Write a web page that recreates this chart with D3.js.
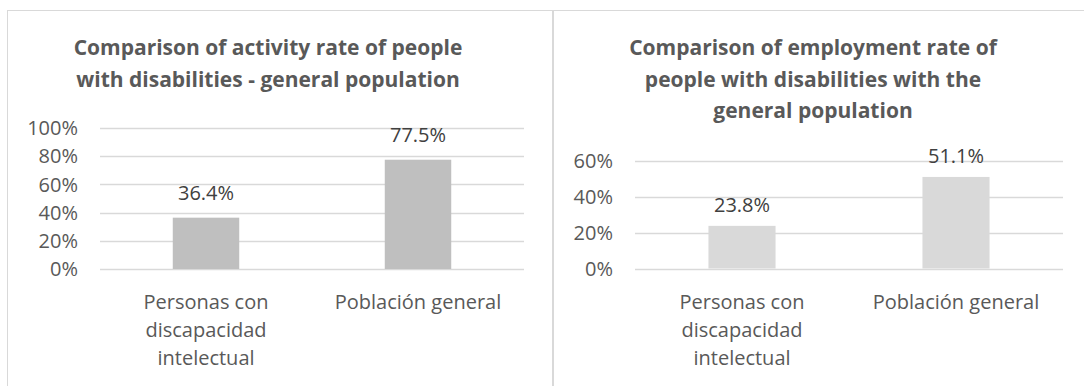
<!DOCTYPE html>
<html>
<head>
<meta charset="utf-8">
<script src="https://cdn.jsdelivr.net/npm/d3@7"></script>
<style>
    body { margin: 0; background: #ffffff; }
    svg { display: block; }
    text { font-family: "Open Sans", sans-serif; }
</style>
</head>
<body>
<div class="visual"></div>
<script>
const categories = ["Personas con discapacidad intelectual", "Población general"];
const categoryLines = [["Personas con", "discapacidad", "intelectual"], ["Población general"]];

const activityRate = [36.4, 77.5];
const employmentRate = [23.8, 51.1];

const activityTicks = [0, 20, 40, 60, 80, 100];
const employmentTicks = [0, 20, 40, 60];

const activityTitle = ["Comparison of activity rate of people", "with disabilities - general population"];
const employmentTitle = ["Comparison of employment rate of", "people with disabilities with the", "general population"];

const W = 1084, H = 386;

const svg = d3.select(".visual")
    .append("svg")
    .attr("width", W)
    .attr("height", H);

svg.append("rect").attr("width", W).attr("height", H).attr("fill", "#ffffff");

// chart frames
svg.append("rect")
    .attr("x", 7.5).attr("y", 10.5)
    .attr("width", 545).attr("height", 400)
    .attr("fill", "none").attr("stroke", "#d9d9d9").attr("stroke-width", 1);

svg.append("rect")
    .attr("x", 553.5).attr("y", 10.5)
    .attr("width", 560).attr("height", 400)
    .attr("fill", "none").attr("stroke", "#d9d9d9").attr("stroke-width", 1);

function drawChart(opt) {
    const g = svg.append("g");

    const x = d3.scaleBand()
        .domain(categories)
        .range([opt.x0, opt.x1])
        .paddingInner(0)
        .paddingOuter(0);

    const y = d3.scaleLinear()
        .domain([0, opt.max])
        .range([opt.y0, opt.y1]);

    const barW = x.bandwidth() / 3.19;

    // title
    g.append("text")
        .attr("x", opt.titleX)
        .attr("y", 55)
        .attr("text-anchor", "middle")
        .style("font-size", "21px")
        .style("font-weight", "bold")
        .style("fill", "#595959")
        .selectAll("tspan")
        .data(opt.title)
        .enter()
        .append("tspan")
        .attr("x", opt.titleX)
        .attr("dy", (d, i) => i === 0 ? 0 : 31.5)
        .text(d => d);

    // gridlines
    g.selectAll(".grid")
        .data(opt.ticks)
        .enter()
        .append("line")
        .attr("x1", opt.x0)
        .attr("x2", opt.x1)
        .attr("y1", d => Math.round(y(d)) + 0.5)
        .attr("y2", d => Math.round(y(d)) + 0.5)
        .attr("stroke", "#d9d9d9")
        .attr("stroke-width", 1.3);

    // y tick labels
    g.selectAll(".ytick")
        .data(opt.ticks)
        .enter()
        .append("text")
        .attr("x", opt.x0 - 22)
        .attr("y", d => y(d))
        .attr("dy", "0.36em")
        .attr("text-anchor", "end")
        .style("font-size", "20px")
        .style("fill", "#595959")
        .text(d => d + "%");

    // bars
    g.selectAll(".bar")
        .data(opt.values)
        .enter()
        .append("rect")
        .attr("x", (d, i) => x(categories[i]) + x.bandwidth() / 2 - barW / 2)
        .attr("y", d => y(d))
        .attr("width", barW)
        .attr("height", d => opt.y0 - y(d))
        .attr("fill", opt.color);

    // value labels
    g.selectAll(".val")
        .data(opt.values)
        .enter()
        .append("text")
        .attr("x", (d, i) => x(categories[i]) + x.bandwidth() / 2)
        .attr("y", d => y(d) - opt.labelGap)
        .attr("text-anchor", "middle")
        .style("font-size", "20px")
        .style("fill", "#404040")
        .text(d => d.toFixed(1) + "%");

    // category labels
    categoryLines.forEach((lines, i) => {
        g.append("text")
            .attr("text-anchor", "middle")
            .style("font-size", "20px")
            .style("fill", "#595959")
            .selectAll("tspan")
            .data(lines)
            .enter()
            .append("tspan")
            .attr("x", x(categories[i]) + x.bandwidth() / 2)
            .attr("y", (d, j) => opt.y0 + 40 + j * 28)
            .text(d => d);
    });
}

drawChart({
    values: activityRate,
    ticks: activityTicks,
    max: 100,
    title: activityTitle,
    titleX: 268,
    x0: 100, x1: 524,
    y0: 269, y1: 128,
    color: "#bfbfbf",
    labelGap: 18
});

drawChart({
    values: employmentRate,
    ticks: employmentTicks,
    max: 60,
    title: employmentTitle,
    titleX: 813,
    x0: 635, x1: 1063,
    y0: 268.5, y1: 161,
    color: "#d9d9d9",
    labelGap: 14
});
</script>
</body>
</html>
